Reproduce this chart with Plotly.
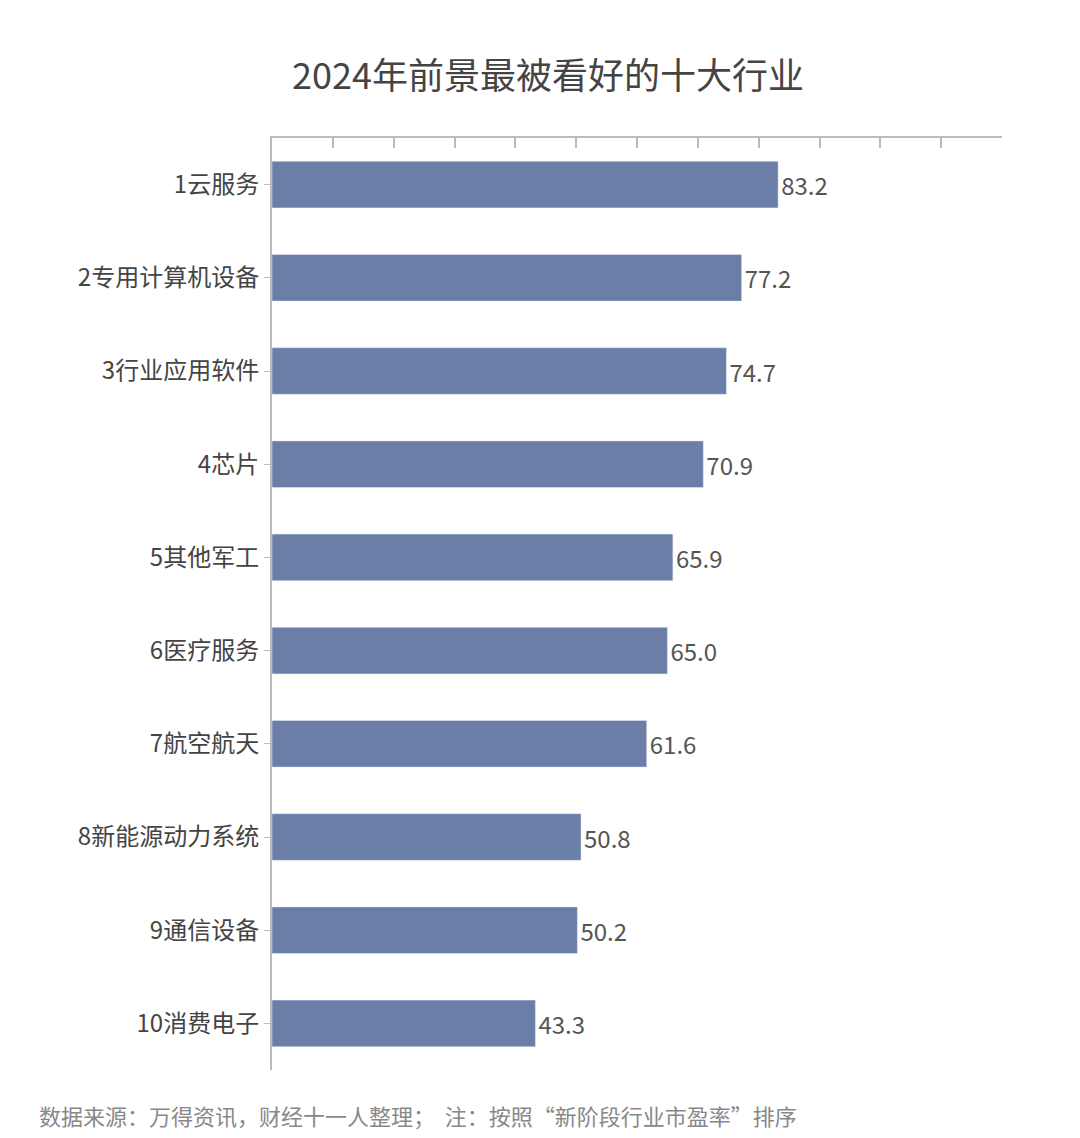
import plotly.graph_objects as go

industries = ["1云服务", "2专用计算机设备", "3行业应用软件", "4芯片", "5其他军工",
              "6医疗服务", "7航空航天", "8新能源动力系统", "9通信设备", "10消费电子"]
values = [83.2, 77.2, 74.7, 70.9, 65.9, 65.0, 61.6, 50.8, 50.2, 43.3]

font = "Noto Sans CJK SC"
fig = go.Figure(go.Bar(
    x=values, y=industries, orientation="h", width=0.5,
    marker_color="#6a7ea8",
    text=[f"{v:.1f}" for v in values], textposition="outside",
    textfont=dict(size=24, color="#555555"), cliponaxis=False,
))
fig.update_layout(
    width=1080, height=1138,
    margin=dict(l=264, r=86, t=130, b=76),
    paper_bgcolor="white", plot_bgcolor="white",
    font=dict(family=font, color="#555555"),
    title=dict(text="2024年前景最被看好的十大行业", x=0.5, xanchor="center",
               y=0.94, yanchor="middle", font=dict(size=36, color="#444444")),
    showlegend=False,
    xaxis=dict(range=[0, 120], dtick=10, side="top", showticklabels=False,
               showgrid=False, zeroline=False, showline=True, linecolor="#bbbbbb",
               linewidth=2, ticks="inside", ticklen=10, tickcolor="#bbbbbb", tickwidth=1.5),
    yaxis=dict(autorange="reversed", showgrid=False, showline=True, linecolor="#bbbbbb",
               linewidth=2, ticks="outside", ticklen=6, tickcolor="#bbbbbb",
               tickfont=dict(size=24, color="#444444")),
    annotations=[dict(text="数据来源：万得资讯，财经十一人整理；  注：按照“新阶段行业市盈率”排序",
                      xref="paper", yref="paper", x=-0.322, y=-0.048, xanchor="left",
                      yanchor="middle", showarrow=False,
                      font=dict(size=22, color="#888888"))],
    shapes=[dict(type="line", xref="paper", yref="paper", x0=-0.322, x1=1.081,
                 y0=-0.076, y1=-0.076, line=dict(color="#cccccc", width=2))],
)
fig.write_html("out.html")
